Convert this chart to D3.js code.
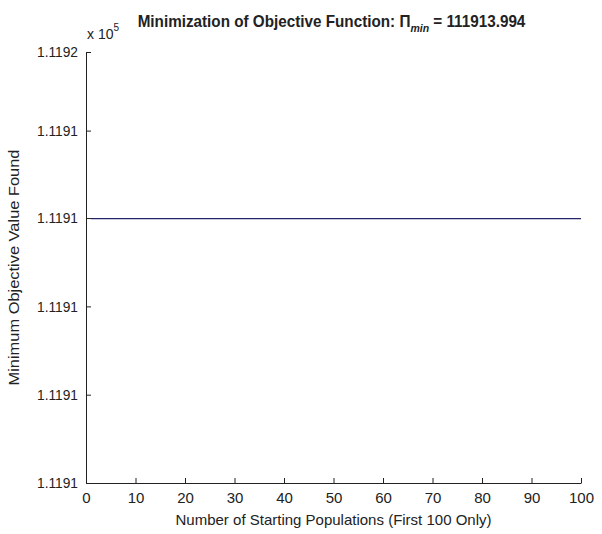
<!DOCTYPE html>
<html>
<head>
<meta charset="utf-8">
<script src="https://cdn.jsdelivr.net/npm/d3@7"></script>
<style>
  body { margin: 0; background: #fff; }
  text { font-family: "Liberation Sans", Arial, sans-serif; fill: #222; }
</style>
</head>
<body>
<div id="chart"></div>
<script>
// objective value found for each starting population (all the same)
var populations = [1,2,3,4,5,6,7,8,9,10,11,12,13,14,15,16,17,18,19,20,
  21,22,23,24,25,26,27,28,29,30,31,32,33,34,35,36,37,38,39,40,
  41,42,43,44,45,46,47,48,49,50,51,52,53,54,55,56,57,58,59,60,
  61,62,63,64,65,66,67,68,69,70,71,72,73,74,75,76,77,78,79,80,
  81,82,83,84,85,86,87,88,89,90,91,92,93,94,95,96,97,98,99,100];
var minValues = [111913.994,111913.994,111913.994,111913.994,111913.994,111913.994,111913.994,111913.994,111913.994,111913.994,
  111913.994,111913.994,111913.994,111913.994,111913.994,111913.994,111913.994,111913.994,111913.994,111913.994,
  111913.994,111913.994,111913.994,111913.994,111913.994,111913.994,111913.994,111913.994,111913.994,111913.994,
  111913.994,111913.994,111913.994,111913.994,111913.994,111913.994,111913.994,111913.994,111913.994,111913.994,
  111913.994,111913.994,111913.994,111913.994,111913.994,111913.994,111913.994,111913.994,111913.994,111913.994,
  111913.994,111913.994,111913.994,111913.994,111913.994,111913.994,111913.994,111913.994,111913.994,111913.994,
  111913.994,111913.994,111913.994,111913.994,111913.994,111913.994,111913.994,111913.994,111913.994,111913.994,
  111913.994,111913.994,111913.994,111913.994,111913.994,111913.994,111913.994,111913.994,111913.994,111913.994,
  111913.994,111913.994,111913.994,111913.994,111913.994,111913.994,111913.994,111913.994,111913.994,111913.994,
  111913.994,111913.994,111913.994,111913.994,111913.994,111913.994,111913.994,111913.994,111913.994,111913.994];

var xTicks = [0,10,20,30,40,50,60,70,80,90,100];
var yTicks = [111911.0,111912.0,111913.0,111914.0,111914.99,111915.88];
var yDomain = [111911.0, 111915.88];
var piMin = "111913.994";

var margin = { top: 52, right: 21, bottom: 51, left: 86 },
  width = 602 - margin.left - margin.right,
  height = 534 - margin.top - margin.bottom;

var svg = d3.select("#chart")
  .append("svg")
  .attr("width", 602)
  .attr("height", 534)
  .append("g")
  .attr("transform", "translate(" + margin.left + "," + margin.top + ")");

var x = d3.scaleLinear().domain([0, 100]).range([0, width]);
var y = d3.scaleLinear().domain(yDomain).range([height, 0]);

var xAxis = svg.append("g")
  .attr("transform", "translate(0," + height + ")")
  .call(d3.axisBottom(x).tickValues(xTicks).tickSizeInner(-5).tickSizeOuter(0).tickPadding(9));

var yAxis = svg.append("g")
  .call(d3.axisLeft(y).tickValues(yTicks).tickSizeInner(-5).tickSizeOuter(0).tickPadding(8)
    .tickFormat(function (d) { return d3.format(".4f")(d / 1e5); }));

[xAxis, yAxis].forEach(function (a) {
  a.select(".domain").attr("stroke", "#222");
  a.selectAll(".tick line").attr("stroke", "#222");
  a.selectAll(".tick text").style("font-size", "15px").attr("fill", "#222").style("font-family", null);
});
yAxis.selectAll(".tick text").attr("textLength", 41).attr("lengthAdjust", "spacingAndGlyphs");

// the data line
svg.append("path")
  .datum(populations.map(function (p, i) { return [p, minValues[i]]; }))
  .attr("fill", "none")
  .attr("stroke", "#24246c")
  .attr("stroke-width", 1.2)
  .attr("d", d3.line()
    .x(function (d) { return x(d[0]); })
    .y(function (d) { return y(d[1]); }));

// exponent label
var ex = svg.append("text")
  .attr("x", 1)
  .attr("y", -13)
  .style("font-size", "14px");
ex.append("tspan").text("x 10");
ex.append("tspan").attr("dy", -8).style("font-size", "10px").text("5");

// title, squeezed to the narrow look of the original
var title = svg.append("text")
  .attr("text-anchor", "middle")
  .style("font-size", "16px")
  .style("font-weight", "bold");
title.append("tspan").text("Minimization of Objective Function: \u03A0");
title.append("tspan").attr("dy", 5).style("font-size", "11px").style("font-style", "italic").text("min");
title.append("tspan").attr("dy", -5).text(" = " + piMin);
var tw = title.node().getBBox().width;
title.attr("transform", "translate(" + (width / 2 - 2) + "," + (-25) + ") scale(" + (388 / tw) + ",1)");

svg.append("text")
  .attr("x", width / 2)
  .attr("y", height + 42)
  .attr("text-anchor", "middle")
  .style("font-size", "15px")
  .text("Number of Starting Populations (First 100 Only)");

svg.append("text")
  .attr("transform", "rotate(-90)")
  .attr("x", -height / 2)
  .attr("y", -67)
  .attr("text-anchor", "middle")
  .attr("textLength", 236)
  .attr("lengthAdjust", "spacingAndGlyphs")
  .style("font-size", "15px")
  .text("Minimum Objective Value Found");
</script>
</body>
</html>
